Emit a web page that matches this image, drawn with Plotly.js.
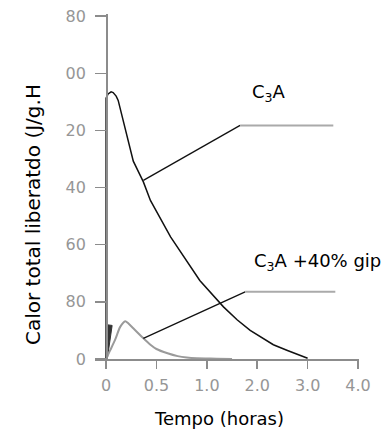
<!DOCTYPE html>
<html>
<head>
<meta charset="utf-8">
<script src="https://cdn.plot.ly/plotly-3.0.1.min.js"></script>
<style>html,body{margin:0;padding:0;background:#fff;}#chart{width:384px;height:432px;}</style>
</head>
<body>
<div id="chart"></div>
<script>
// Time axis (hours) tick labels, equally spaced on the original figure
var tickLabels = ['0', '0.5', '1.0', '2.0', '3.0', '4.0'];
var tickHours = [0, 0.5, 1.0, 2.0, 3.0, 4.0];
// Y tick labels as printed (truncated) on the figure
var yTickValues = [0, 80, 160, 240, 320, 400, 480];
var yTickLabels = ['0', '80', '60', '40', '20', '00', '80'];

// C3A curve (black)
var c3aHours = [0, 0, 0.02, 0.05, 0.07, 0.1, 0.12, 0.2, 0.27, 0.37, 0.44, 0.64, 0.93, 1.33, 1.6, 1.86, 2.32, 2.6, 3.0];
var c3aHeat  = [0, 365, 371, 374, 373, 368, 362, 318, 277, 248, 222, 171, 110, 73, 55, 40, 20, 12, 1];

// C3A + 40% gipsita curve (grey)
var gypHours = [0, 0.04, 0.09, 0.14, 0.19, 0.22, 0.27, 0.37, 0.44, 0.5, 0.61, 0.71, 0.8, 0.9, 1.2, 1.5];
var gypHeat  = [0, 12, 27, 45, 53, 50, 43, 29, 20, 14, 8, 4, 2, 1, 0.5, 0];

// small initial spike (dark wedge)
var spikeHours = [0.002, 0.008, 0.06, 0.05, 0.012];
var spikeHeat  = [0, 48, 47, 38, 0];

// piecewise time scale of the original axis: 0-1 h stretched x2
function pos(h) { return h <= 1 ? 2 * h : h + 1; }

var font = 'DejaVu Sans, Verdana, sans-serif';
var axisCol = '#8c8c8c';
var labelCol = '#969696';

var traces = [
  {x: spikeHours.map(pos), y: spikeHeat, mode: 'lines', fill: 'toself', fillcolor: '#333',
   line: {color: '#333', width: 1}, hoverinfo: 'skip', showlegend: false},
  {x: gypHours.map(pos), y: gypHeat, mode: 'lines', name: 'C3A +40% gipsita',
   line: {color: '#9a9a9a', width: 2, shape: 'spline', smoothing: 0.7}, showlegend: false},
  {x: c3aHours.map(pos), y: c3aHeat, mode: 'lines', name: 'C3A',
   line: {color: '#111', width: 1.5}, showlegend: false}
];

var layout = {
  width: 384, height: 432,
  margin: {l: 95, r: 25, t: 14, b: 73},
  paper_bgcolor: '#fff', plot_bgcolor: '#fff',
  font: {family: font},
  xaxis: {
    range: [-0.22, 5.02], showgrid: false, zeroline: false,
    showline: true, linecolor: axisCol, linewidth: 1.5,
    ticks: 'outside', ticklen: 8, tickwidth: 1.5, tickcolor: axisCol,
    tickmode: 'array', tickvals: tickHours.map(pos), ticktext: tickLabels,
    tickfont: {family: font, size: 16, color: labelCol}, ticklabelstandoff: 3
  },
  yaxis: {
    range: [0, 483], anchor: 'free', position: 0.22 / 5.24,
    showgrid: false, zeroline: false,
    showline: true, linecolor: axisCol, linewidth: 1.5,
    ticks: 'outside', ticklen: 11, tickwidth: 1.5, tickcolor: axisCol,
    tickmode: 'array', tickvals: yTickValues, ticktext: yTickLabels,
    tickfont: {family: font, size: 16, color: labelCol}, ticklabelstandoff: 6
  },
  shapes: [
    {type: 'line', xref: 'x', yref: 'y', x0: 0.74, y0: 250, x1: 2.66, y1: 327, line: {color: '#111', width: 1.3}},
    {type: 'line', xref: 'x', yref: 'y', x0: 2.66, y0: 327, x1: 4.51, y1: 327, line: {color: '#aaa', width: 2}},
    {type: 'line', xref: 'x', yref: 'y', x0: 0.74, y0: 29, x1: 2.76, y1: 94, line: {color: '#111', width: 1.3}},
    {type: 'line', xref: 'x', yref: 'y', x0: 2.76, y0: 94, x1: 4.55, y1: 94, line: {color: '#aaa', width: 2}}
  ],
  annotations: [
    {x: 2.86, y: 372, xref: 'x', yref: 'y', xanchor: 'left', yanchor: 'middle', showarrow: false,
     text: 'C<sub>3</sub>A', font: {family: font, size: 18, color: '#000'}},
    {x: 2.9, y: 136, xref: 'x', yref: 'y', xanchor: 'left', yanchor: 'middle', showarrow: false,
     text: 'C<sub>3</sub>A +40% gip', font: {family: font, size: 18, color: '#000'}},
    // axis titles
    {x: 219, y: 418, xref: 'paper', yref: 'paper', showarrow: false, text: 'Tempo (horas)',
     font: {family: font, size: 18, color: '#000'}, xanchor: 'center', yanchor: 'middle'},
    {x: 33, y: 215, xref: 'paper', yref: 'paper', showarrow: false, textangle: -90,
     text: 'Calor total liberatdo (J/g.H', font: {family: font, size: 20, color: '#000'},
     xanchor: 'center', yanchor: 'middle'}
  ]
};

// convert the two title pixel positions to paper coordinates
var pw = 384 - 95 - 25, ph = 432 - 14 - 73;
layout.annotations[2].x = (219 - 95) / pw;
layout.annotations[2].y = -(418 - (432 - 73)) / ph;
layout.annotations[3].x = (33 - 95) / pw;
layout.annotations[3].y = ((432 - 73) - 215) / ph;

Plotly.newPlot('chart', traces, layout, {displayModeBar: false, staticPlot: true});
</script>
</body>
</html>
